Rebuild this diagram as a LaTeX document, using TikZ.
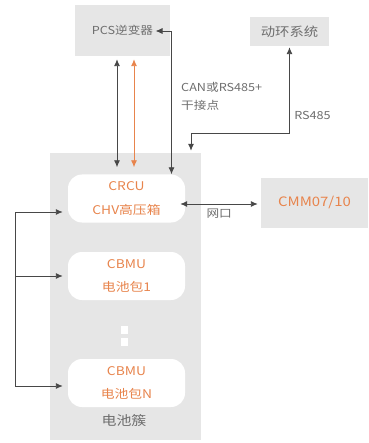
\documentclass[tikz,border=0pt]{standalone}
\usepackage{fontspec}
\setmainfont{Noto Sans CJK SC}[FakeStretch=1.15]
\usetikzlibrary{arrows.meta}

\definecolor{boxgray}{HTML}{E6E6E6}
\definecolor{txtgray}{HTML}{6E6E6E}
\definecolor{orng}{HTML}{E8844C}
\definecolor{linegray}{HTML}{474747}

\tikzstyle{graybox}=[rectangle, fill=boxgray, text=txtgray, inner sep=0pt, font=\fontsize{11}{14}\selectfont]
\tikzstyle{unit}=[rectangle, rounded corners=14pt, fill=white, text=orng, minimum width=117pt, minimum height=48pt, align=center, inner sep=0pt, font=\fontsize{12}{23.5}\selectfont]
\tikzstyle{lbl}=[text=txtgray, inner sep=0pt, font=\fontsize{11}{18}\selectfont]
\tikzstyle{line}=[linegray, line width=0.9pt]
\tikzstyle{dot}=[rectangle, fill=white, minimum width=7pt, minimum height=8pt, inner sep=0pt]

\begin{document}
\begin{tikzpicture}[x=1pt, y=-1pt, >={Latex[length=7pt,width=6pt]}]
            \useasboundingbox (0,0) rectangle (368,443);
            \node[graybox, minimum width=95pt, minimum height=51pt] at (122.5,30.5) (pcs) {PCS逆变器};
            \node[graybox, minimum width=79pt, minimum height=29pt, font=\fontsize{12.5}{14}\selectfont] at (289.5,31.5) (dh) {动环系统};
            \node[graybox, minimum width=151pt, minimum height=287pt] at (125.5,296.5) (clus) {};
            \node[graybox, minimum width=107pt, minimum height=50pt, text=orng, font=\fontsize{13}{14}\selectfont] at (314.5,203) (cmm) {CMM07/10};
            \node[unit] at (126.5,198.5) (crcu) {CRCU\\CHV高压箱};
            \node[unit] at (126.5,276) (cbmu1) {CBMU\\电池包1};
            \node[unit] at (126.5,383) (cbmun) {CBMU\\电池包N};
            \node[dot] at (124,330) (d1) {};
            \node[dot] at (124,342) (d2) {};
            \node[lbl, font=\fontsize{13}{14}\selectfont] at (124,421) (cl) {电池簇};
            \node[lbl, anchor=north west, align=left] at (181,82) (can) {CAN或RS485+\\干接点};
            \node[lbl] at (312.5,115) (rs) {RS485};
            % PCS links
            \coordinate (a1) at (117,0);
            \coordinate (a2) at (134,0);
            \coordinate (c1) at (171.5,31);
            \coordinate (pcsin) at (155.5,31);
            \draw[line, <->, shorten <=3pt, shorten >=7pt] (pcs.south-|a1) -- (crcu.north-|a1);
            \draw[line, orng, <->, shorten <=3pt, shorten >=7pt] (pcs.south-|a2) -- (crcu.north-|a2);
            \draw[line, <->] (pcsin) -| (crcu.north-|c1);
            % RS485
            \coordinate (r1) at (191,133);
            \draw[line, <->, shorten <=1pt, shorten >=2pt] (dh.south) |- (r1) -- (clus.north-|r1);
            % left bus
            \coordinate (b1) at (15,212);
            \coordinate (b2) at (15,386);
            \draw[line] (b1) -- (b2);
            \draw[line, ->, shorten >=5pt] (b1) -- (crcu.west|-b1);
            \draw[line, ->, shorten >=5pt] (b1|-cbmu1.west) -- (cbmu1.west);
            \draw[line, ->, shorten >=5pt] (b2) -- (cbmun.west|-b2);
            % network port
            \coordinate (w1) at (0,204);
            \draw[line, <->, shorten <=-5pt, shorten >=3pt] (crcu.east|-w1) -- node[lbl, pos=0.45, below=4pt] (wk) {网口} (cmm.west|-w1);
        \end{tikzpicture}
\end{document}
